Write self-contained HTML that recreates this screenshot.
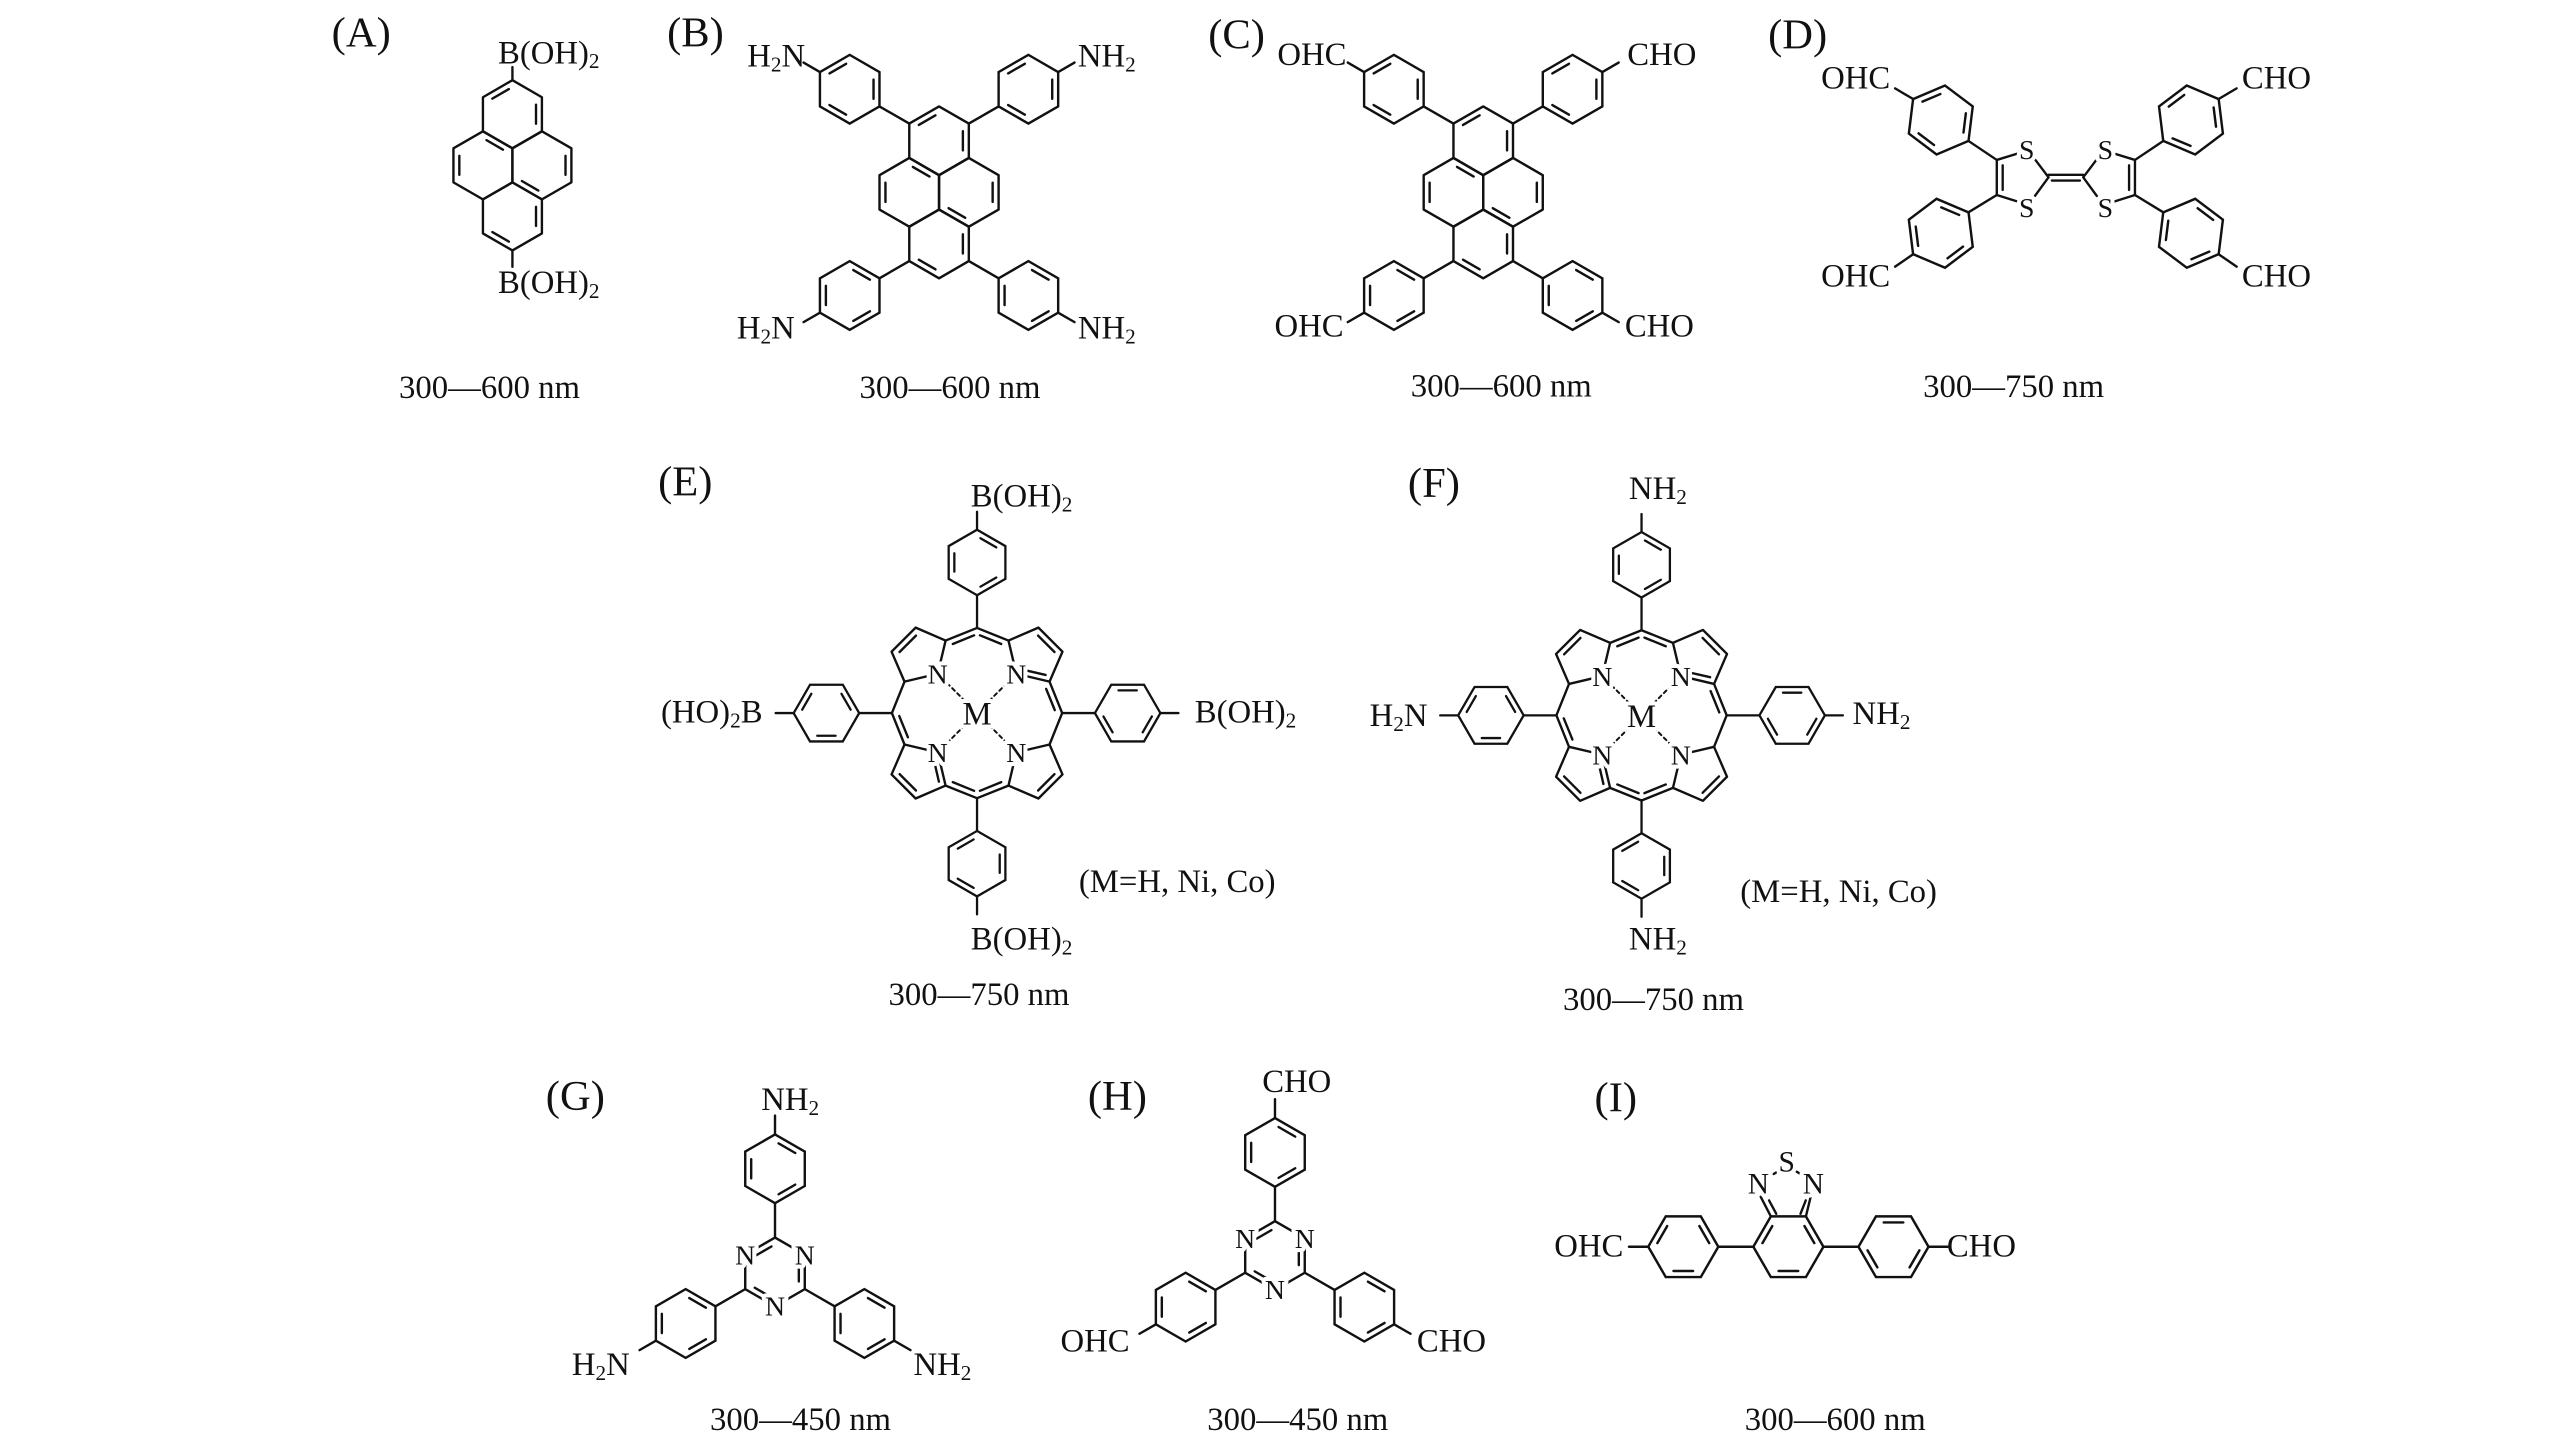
<!DOCTYPE html>
<html><head><meta charset="utf-8">
<style>
html,body{margin:0;padding:0;background:#fff;}
svg{display:block;}
text{font-family:"Liberation Serif","DejaVu Serif",serif;fill:#111;}
.lab{font-size:20px;}
.pl{font-size:26px;}
.cap{font-size:20px;text-anchor:middle;}
.at{font-size:17px;text-anchor:middle;stroke:#fff;stroke-width:5px;paint-order:stroke;stroke-linejoin:round;}
</style></head>
<body>
<svg width="2567" height="1452" viewBox="0 0 1568 887" preserveAspectRatio="none" xmlns="http://www.w3.org/2000/svg" xmlns:xlink="http://www.w3.org/1999/xlink">
<defs>
 <g id="hx"><g stroke="#111" stroke-width="0.07" fill="none" stroke-linecap="round">
  <polygon points="1,0 0.5,0.866 -0.5,0.866 -1,0 -0.5,-0.866 0.5,-0.866"/>
  <line x1="0.28" y1="0.693" x2="-0.28" y2="0.693"/>
  <line x1="-0.74" y1="-0.104" x2="-0.46" y2="-0.589"/>
  <line x1="0.46" y1="-0.589" x2="0.74" y2="-0.104"/>
 </g></g>
 <g id="pyr"><g stroke="#111" stroke-width="0.07" fill="none" stroke-linecap="round" stroke-linejoin="round">
  <polygon points="0,-2.5 0.866,-2 0.866,-1 0,-0.5 -0.866,-1 -0.866,-2"/>
  <polygon points="-0.866,-1 0,-0.5 0,0.5 -0.866,1 -1.732,0.5 -1.732,-0.5"/>
  <polygon points="0.866,-1 1.732,-0.5 1.732,0.5 0.866,1 0,0.5 0,-0.5"/>
  <polygon points="0,2.5 0.866,2 0.866,1 0,0.5 -0.866,1 -0.866,2"/>
  <line x1="-0.589" y1="-1.96" x2="-0.104" y2="-2.24"/>
  <line x1="0.693" y1="-1.78" x2="0.693" y2="-1.22"/>
  <line x1="-0.589" y1="1.96" x2="-0.104" y2="2.24"/>
  <line x1="0.693" y1="1.22" x2="0.693" y2="1.78"/>
  <line x1="-1.559" y1="-0.28" x2="-1.559" y2="0.28"/>
  <line x1="1.559" y1="-0.28" x2="1.559" y2="0.28"/>
  <line x1="-0.762" y1="-0.74" x2="-0.277" y2="-0.46"/>
  <line x1="0.762" y1="0.74" x2="0.277" y2="0.46"/>
 </g></g>
 <g id="ph"><g stroke="#111" stroke-width="0.07" fill="none" stroke-linecap="round">
  <line x1="0" y1="0" x2="1" y2="0"/>
  <polygon points="1,0 1.5,0.866 2.5,0.866 3,0 2.5,-0.866 1.5,-0.866"/>
  <line x1="1.72" y1="-0.693" x2="2.28" y2="-0.693"/>
  <line x1="2.46" y1="0.589" x2="2.74" y2="0.104"/>
  <line x1="1.26" y1="0.104" x2="1.54" y2="0.589"/>
  <line x1="3" y1="0" x2="3.55" y2="0"/>
 </g></g>
 <g id="por"><g stroke="#111" stroke-width="1.45" fill="none" stroke-linecap="round" stroke-linejoin="round">
  <polygon points="-19.2,-44.3 -37.5,-52.2 -52.2,-37.5 -44.3,-19.2 -24,-24"/>
  <line x1="-19.2" y1="-44.3" x2="0" y2="-52"/><line x1="-44.3" y1="-19.2" x2="-52" y2="0"/>
  <line x1="-37.3" y1="-47.3" x2="-47.3" y2="-37.3"/>
  <line x1="-14.8" y1="-42.2" x2="-1.8" y2="-47.5"/>
  <polygon points="19.2,-44.3 37.5,-52.2 52.2,-37.5 44.3,-19.2 24,-24"/>
  <line x1="19.2" y1="-44.3" x2="0" y2="-52"/><line x1="44.3" y1="-19.2" x2="52" y2="0"/>
  <line x1="37.3" y1="-47.3" x2="47.3" y2="-37.3"/>
  <line x1="14.8" y1="-42.2" x2="1.8" y2="-47.5"/>
  <line x1="42.2" y1="-14.8" x2="47.5" y2="-1.8"/>
  <line x1="28" y1="-26.5" x2="41.9" y2="-23.3"/>
  <polygon points="-19.2,44.3 -37.5,52.2 -52.2,37.5 -44.3,19.2 -24,24"/>
  <line x1="-19.2" y1="44.3" x2="0" y2="52"/><line x1="-44.3" y1="19.2" x2="-52" y2="0"/>
  <line x1="-37.3" y1="47.3" x2="-47.3" y2="37.3"/>
  <line x1="-14.8" y1="42.2" x2="-1.8" y2="47.5"/>
  <line x1="-42.2" y1="14.8" x2="-47.5" y2="1.8"/>
  <line x1="-26.5" y1="28" x2="-23.3" y2="41.9"/>
  <polygon points="19.2,44.3 37.5,52.2 52.2,37.5 44.3,19.2 24,24"/>
  <line x1="19.2" y1="44.3" x2="0" y2="52"/><line x1="44.3" y1="19.2" x2="52" y2="0"/>
  <line x1="37.3" y1="47.3" x2="47.3" y2="37.3"/>
  <line x1="14.8" y1="42.2" x2="1.8" y2="47.5"/>
  <g stroke-dasharray="2.2,2.2" stroke-width="1.2">
   <line x1="-18.3" y1="-18.3" x2="-7" y2="-7"/>
   <line x1="18.3" y1="-18.3" x2="7" y2="-7"/>
   <line x1="-18.3" y1="18.3" x2="-7" y2="7"/>
   <line x1="18.3" y1="18.3" x2="7" y2="7"/>
  </g>
 </g>
 <use xlink:href="#ph" href="#ph" transform="translate(0,-52) rotate(-90) scale(20)"/>
 <use xlink:href="#ph" href="#ph" transform="translate(0,52) rotate(90) scale(20)"/>
 <use xlink:href="#ph" href="#ph" transform="translate(-52,0) rotate(180) scale(20)"/>
 <use xlink:href="#ph" href="#ph" transform="translate(52,0) rotate(0) scale(20)"/>
 </g>
</defs>

<g stroke="#111" stroke-width="1.45" fill="none" stroke-linecap="round">
<!-- A -->
<use href="#pyr" transform="translate(313,101) scale(20.8)"/>
<line x1="313" y1="49" x2="313" y2="41"/>
<line x1="313" y1="153" x2="313" y2="163"/>

<!-- B -->
<use href="#pyr" transform="translate(573.6,117.5) scale(21)"/>
<use href="#ph" transform="translate(555.4,75.5) rotate(210) scale(21)"/>
<use href="#ph" transform="translate(591.8,75.5) rotate(-30) scale(21)"/>
<use href="#ph" transform="translate(555.4,159.5) rotate(150) scale(21)"/>
<use href="#ph" transform="translate(591.8,159.5) rotate(30) scale(21)"/>

<!-- C -->
<use href="#pyr" transform="translate(906,117.5) scale(21)"/>
<use href="#ph" transform="translate(887.8,75.5) rotate(210) scale(21)"/>
<use href="#ph" transform="translate(924.2,75.5) rotate(-30) scale(21)"/>
<use href="#ph" transform="translate(887.8,159.5) rotate(150) scale(21)"/>
<use href="#ph" transform="translate(924.2,159.5) rotate(30) scale(21)"/>

<!-- D -->
<line x1="1219.7" y1="97.7" x2="1219.7" y2="119.1"/>
<line x1="1223.3" y1="101" x2="1223.3" y2="116"/>
<line x1="1219.7" y1="97.7" x2="1234" y2="93.3"/>
<line x1="1243" y1="97.3" x2="1251.3" y2="108.3"/>
<line x1="1219.7" y1="119.1" x2="1234" y2="123.6"/>
<line x1="1243" y1="119.7" x2="1251.3" y2="108.3"/>
<line x1="1251.3" y1="106.8" x2="1272.5" y2="106.8"/>
<line x1="1253.3" y1="110.3" x2="1270.5" y2="110.3"/>
<line x1="1304.1" y1="97.7" x2="1304.1" y2="119.1"/>
<line x1="1300.5" y1="101" x2="1300.5" y2="116"/>
<line x1="1304.1" y1="97.7" x2="1289.8" y2="93.3"/>
<line x1="1280.8" y1="97.3" x2="1272.5" y2="108.3"/>
<line x1="1304.1" y1="119.1" x2="1289.8" y2="123.6"/>
<line x1="1280.8" y1="119.7" x2="1272.5" y2="108.3"/>
<use href="#hx" transform="translate(1185.5,73.3) rotate(-83) scale(21.2)"/>
<use href="#hx" transform="translate(1185.5,142.5) rotate(83) scale(21.2)"/>
<use href="#hx" transform="translate(1338.3,73.3) rotate(263) scale(21.2)"/>
<use href="#hx" transform="translate(1338.3,142.5) rotate(97) scale(21.2)"/>
<line x1="1202.4" y1="86.1" x2="1219.7" y2="97.7"/>
<line x1="1168.6" y1="60.5" x2="1157.6" y2="54"/>
<line x1="1202.4" y1="129.7" x2="1219.7" y2="119.1"/>
<line x1="1168.6" y1="155.3" x2="1157.6" y2="162.9"/>
<line x1="1321.4" y1="86.1" x2="1304.1" y2="97.7"/>
<line x1="1355.2" y1="60.5" x2="1366.2" y2="54"/>
<line x1="1321.4" y1="129.7" x2="1304.1" y2="119.1"/>
<line x1="1355.2" y1="155.3" x2="1366.2" y2="162.9"/>

<!-- E, F -->
<use href="#por" transform="translate(596.8,435.6)"/>
<use href="#por" transform="translate(1002.7,437)"/>

<!-- G -->
<use href="#hx" transform="translate(473.4,777) rotate(30) scale(21)"/>
<use href="#ph" transform="translate(473.4,756) rotate(-90) scale(21)"/>
<use href="#ph" transform="translate(455.2,787.5) rotate(150) scale(21)"/>
<use href="#ph" transform="translate(491.6,787.5) rotate(30) scale(21)"/>
<!-- H -->
<use href="#hx" transform="translate(778.8,767) rotate(30) scale(21)"/>
<use href="#ph" transform="translate(778.8,746) rotate(-90) scale(21)"/>
<use href="#ph" transform="translate(760.6,777.5) rotate(150) scale(21)"/>
<use href="#ph" transform="translate(797,777.5) rotate(30) scale(21)"/>

<!-- I -->
<use href="#hx" transform="translate(1092.4,761.6) rotate(0) scale(21.4)"/>
<use href="#ph" transform="translate(1071,761.6) rotate(180) scale(21.4)"/>
<use href="#ph" transform="translate(1113.8,761.6) rotate(0) scale(21.4)"/>
<line x1="1081.7" y1="743.1" x2="1075.5" y2="731.1"/>
<line x1="1103.1" y1="743.1" x2="1106" y2="731.1"/>
<line x1="1085" y1="741.5" x2="1080.6" y2="733.3"/>
<line x1="1099.8" y1="741.5" x2="1103" y2="733.3"/>
<line x1="1080" y1="719.2" x2="1085.7" y2="715.8" stroke-dasharray="2,2"/>
<line x1="1097.5" y1="715.8" x2="1103.2" y2="719.2" stroke-dasharray="2,2"/>
</g>

<text class="pl" x="202.6" y="28.5">(A)</text>
<text class="pl" x="407.5" y="28.5">(B)</text>
<text class="pl" x="738" y="29.5">(C)</text>
<text class="pl" x="1080" y="29.5">(D)</text>
<text class="pl" x="402" y="302.6">(E)</text>
<text class="pl" x="860" y="303.6">(F)</text>
<text class="pl" x="333.4" y="678">(G)</text>
<text class="pl" x="664.5" y="678">(H)</text>
<text class="pl" x="974" y="679">(I)</text>

<text class="cap" x="299" y="243">300—600 nm</text>
<text class="cap" x="580.3" y="243">300—600 nm</text>
<text class="cap" x="917" y="242.3">300—600 nm</text>
<text class="cap" x="1230" y="242.5">300—750 nm</text>
<text class="cap" x="598" y="614">300—750 nm</text>
<text class="cap" x="1010" y="617">300—750 nm</text>
<text class="cap" x="489" y="873.5">300—450 nm</text>
<text class="cap" x="792.7" y="873.5">300—450 nm</text>
<text class="cap" x="1121" y="873.5">300—600 nm</text>

<text class="lab" x="304.2" y="38.7">B(OH)<tspan font-size="13" dy="3">2</tspan></text>
<text class="lab" x="304.2" y="179">B(OH)<tspan font-size="13" dy="3">2</tspan></text>
<text class="lab" x="491.8" y="40.7" text-anchor="end">H<tspan font-size="13" dy="3">2</tspan><tspan dy="-3">N</tspan></text>
<text class="lab" x="658.4" y="40.7">NH<tspan font-size="13" dy="3">2</tspan></text>
<text class="lab" x="485.5" y="206.7" text-anchor="end">H<tspan font-size="13" dy="3">2</tspan><tspan dy="-3">N</tspan></text>
<text class="lab" x="658.4" y="206.7">NH<tspan font-size="13" dy="3">2</tspan></text>
<text class="lab" x="822.5" y="39.7" text-anchor="end">OHC</text>
<text class="lab" x="994" y="39.7">CHO</text>
<text class="lab" x="820.7" y="205.7" text-anchor="end">OHC</text>
<text class="lab" x="992.5" y="205.7">CHO</text>
<text class="lab" x="1154.6" y="54" text-anchor="end">OHC</text>
<text class="lab" x="1154.6" y="175" text-anchor="end">OHC</text>
<text class="lab" x="1369.4" y="54">CHO</text>
<text class="lab" x="1369.4" y="175">CHO</text>
<text class="at" x="1238" y="97">S</text>
<text class="at" x="1238" y="132.5">S</text>
<text class="at" x="1286" y="97">S</text>
<text class="at" x="1286" y="132.5">S</text>
<text class="lab" x="593" y="309.5">B(OH)<tspan font-size="13" dy="3">2</tspan></text>
<text class="lab" x="593" y="580">B(OH)<tspan font-size="13" dy="3">2</tspan></text>
<text class="lab" x="465.8" y="441.3" text-anchor="end">(HO)<tspan font-size="13" dy="3">2</tspan><tspan dy="-3">B</tspan></text>
<text class="lab" x="729.8" y="441.3">B(OH)<tspan font-size="13" dy="3">2</tspan></text>
<text class="lab" x="659" y="545">(M=H, Ni, Co)</text>
<text class="at" x="572.8" y="417.6">N</text>
<text class="at" x="620.8" y="417.6">N</text>
<text class="at" x="572.8" y="465.6">N</text>
<text class="at" x="620.8" y="465.6">N</text>
<text class="at" x="596.8" y="442.6" style="font-size:20px">M</text>
<text class="lab" x="995" y="304.9">NH<tspan font-size="13" dy="3">2</tspan></text>
<text class="lab" x="995" y="580">NH<tspan font-size="13" dy="3">2</tspan></text>
<text class="lab" x="872" y="443.6" text-anchor="end">H<tspan font-size="13" dy="3">2</tspan><tspan dy="-3">N</tspan></text>
<text class="lab" x="1131.6" y="442.4">NH<tspan font-size="13" dy="3">2</tspan></text>
<text class="lab" x="1063" y="550.9">(M=H, Ni, Co)</text>
<text class="at" x="978.7" y="419">N</text>
<text class="at" x="1026.7" y="419">N</text>
<text class="at" x="978.7" y="467">N</text>
<text class="at" x="1026.7" y="467">N</text>
<text class="at" x="1002.7" y="444" style="font-size:20px">M</text>
<text class="lab" x="465" y="678">NH<tspan font-size="13" dy="3">2</tspan></text>
<text class="lab" x="384.7" y="840" text-anchor="end">H<tspan font-size="13" dy="3">2</tspan><tspan dy="-3">N</tspan></text>
<text class="lab" x="558" y="840">NH<tspan font-size="13" dy="3">2</tspan></text>
<text class="at" x="491.6" y="772.5">N</text>
<text class="at" x="455.2" y="772.5">N</text>
<text class="at" x="473.4" y="803.5">N</text>
<text class="lab" x="771" y="667">CHO</text>
<text class="lab" x="690" y="825.7" text-anchor="end">OHC</text>
<text class="lab" x="865.5" y="825.7">CHO</text>
<text class="at" x="797" y="762.5">N</text>
<text class="at" x="760.6" y="762.5">N</text>
<text class="at" x="778.8" y="793.5">N</text>
<text class="lab" x="991.6" y="767.7" text-anchor="end">OHC</text>
<text class="lab" x="1189.2" y="767.7">CHO</text>
<text class="at" x="1074.1" y="729" style="font-size:18px">N</text>
<text class="at" x="1107.7" y="729" style="font-size:18px">N</text>
<text class="at" x="1091.4" y="715.8" style="font-size:18px">S</text>
</svg>
</body></html>
